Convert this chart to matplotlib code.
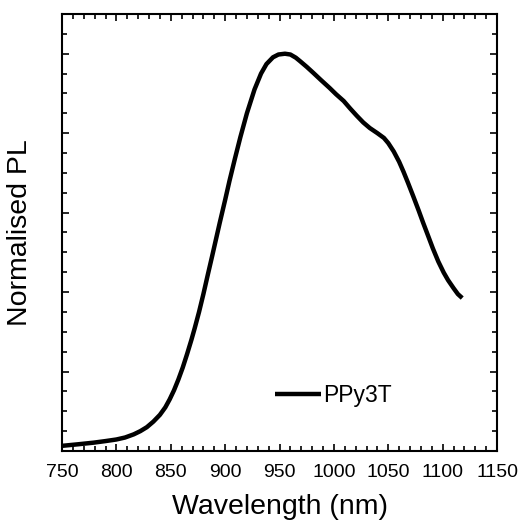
import matplotlib
matplotlib.use("Agg")
import matplotlib.pyplot as plt
from matplotlib.ticker import MultipleLocator, NullFormatter

plt.rcParams['font.family'] = ['Liberation Sans', 'DejaVu Sans']

wavelength = [750, 765, 779, 790, 800, 808, 816, 822, 828, 834, 840, 845, 849, 853, 857,
              861, 865, 869, 872, 876, 880, 884, 888, 892, 895, 900, 904, 909, 914, 920,
              927, 933, 938, 944, 949, 955, 960, 965, 969, 975, 981, 988, 996, 1002, 1009,
              1015, 1021, 1027, 1033, 1040, 1046, 1050, 1055, 1060, 1064, 1068, 1073, 1078,
              1082, 1087, 1091, 1096, 1101, 1105, 1110, 1114, 1118]
pl = [0.013, 0.017, 0.021, 0.025, 0.029, 0.034, 0.042, 0.050, 0.060, 0.074, 0.091, 0.110, 0.130,
      0.153, 0.180, 0.210, 0.244, 0.280, 0.309, 0.350, 0.395, 0.443, 0.490, 0.538, 0.574,
      0.632, 0.680, 0.736, 0.790, 0.850, 0.910, 0.950, 0.974, 0.991, 0.998, 1.000, 0.998,
      0.990, 0.981, 0.967, 0.952, 0.934, 0.914, 0.898, 0.881, 0.862, 0.844, 0.827, 0.813,
      0.800, 0.788, 0.775, 0.754, 0.728, 0.703, 0.676, 0.641, 0.605, 0.575, 0.539, 0.510,
      0.477, 0.449, 0.430, 0.410, 0.395, 0.385]
series_name = "PPy3T"
x_ticks = [750, 800, 850, 900, 950, 1000, 1050, 1100, 1150]

fig = plt.figure(figsize=(5.26, 5.22), dpi=100)
ax = fig.add_axes([0.1179, 0.136, 0.827, 0.8372])

ax.plot(wavelength, pl, color='black', lw=3.2, solid_capstyle='butt',
        solid_joinstyle='round', label=series_name)

ax.set_xlim(750, 1150)
ax.set_ylim(0, 1.1)
ax.set_xticks(x_ticks)
ax.xaxis.set_minor_locator(MultipleLocator(10))
ax.yaxis.set_major_locator(MultipleLocator(0.2))
ax.yaxis.set_minor_locator(MultipleLocator(0.05))
ax.yaxis.set_major_formatter(NullFormatter())

ax.tick_params(which='both', direction='in', top=True, right=True, width=1.2, labelsize=14)
ax.tick_params(which='major', length=5, pad=9)
ax.tick_params(which='minor', length=3.3)
for s in ax.spines.values():
    s.set_linewidth(1.5)

ax.set_xlabel("Wavelength (nm)", fontsize=20.5, labelpad=10)
ax.set_ylabel("Normalised PL", fontsize=20.5, labelpad=12)

leg = ax.legend(loc='lower left', bbox_to_anchor=(0.49, 0.1), frameon=False,
                fontsize=16.5, handlelength=2.0, handletextpad=0.1, borderpad=0, borderaxespad=0)

fig.savefig("out.png", dpi=100)
